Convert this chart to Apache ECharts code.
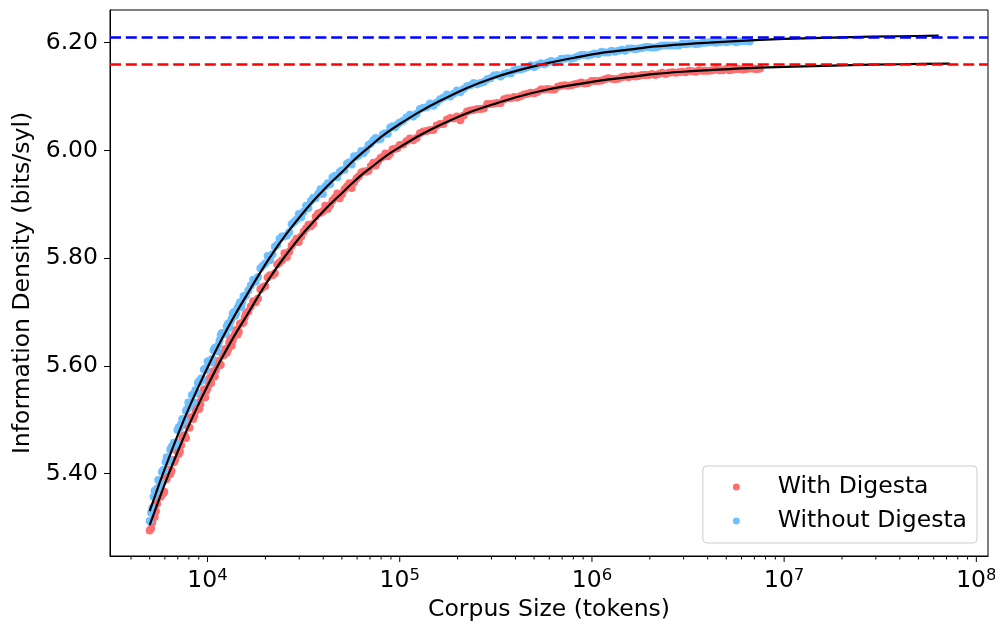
<!DOCTYPE html>
<html>
<head>
<meta charset="utf-8">
<script src="https://cdn.jsdelivr.net/npm/echarts@6/dist/echarts.min.js"></script>
<style>
  html, body { margin: 0; padding: 0; background: #ffffff; }
  #chart { width: 995px; height: 623px; }
</style>
</head>
<body>
<div id="chart"></div>
<script>
// Corpus sizes (tokens) of the first sampling pass
const corpusSizes = [
  5000, 5158, 5309, 5464, 5623, 5788, 5957, 6131, 6310, 6494, 6683, 6879, 7079, 7286, 7499, 7718, 7943, 8175, 8414, 8660,
  8913, 9173, 9441, 9716, 10000, 10292, 10593, 10902, 11220, 11548, 11885, 12232, 12589, 12957, 13335, 13725, 14125, 14538, 14962, 15399,
  15849, 16788, 17783, 18836, 19953, 21135, 22387, 23714, 25119, 26607, 28184, 29854, 31623, 33497, 35481, 37584, 39811, 42170, 44668, 47315,
  50119, 53088, 56234, 59566, 63096, 66834, 70795, 74989, 79433, 84140, 89125, 94406, 100000, 108393, 117490, 127350, 138038, 149624, 162181, 175792,
  190546, 206538, 223872, 242661, 263027, 285102, 309030, 334965, 363078, 393550, 426580, 462381, 501187, 543250, 588844, 638263, 691831, 749894, 812831, 881049,
  954993, 1035142, 1122018, 1216186, 1318257, 1428894, 1548817, 1678804, 1819701, 1972423, 2137962, 2317395, 2511886, 2722701, 2951209, 3198895, 3467369, 3758374, 4073803, 4415704,
  4786301, 5188000, 5623413, 6095369, 6606934, 7079458, 7498942
];
// Corpus sizes (tokens) of the second, interleaved sampling pass
const corpusSizesB = [
  5085, 5234, 5386, 5543, 5705, 5872, 6043, 6220, 6401, 6588, 6780, 6978, 7182, 7391, 7607, 7829, 8058, 8293, 8535, 8784,
  9041, 9305, 9576, 9856, 10145, 10441, 10746, 11060, 11383, 11715, 12057, 12409, 12772, 13144, 13528, 13923, 14330, 14748, 15179, 15622,
  16312, 17278, 18302, 19386, 20535, 21752, 23041, 24406, 25852, 27384, 29007, 30726, 32546, 34475, 36517, 38681, 40973, 43401, 45973, 48697,
  51582, 54639, 57876, 61306, 64938, 68786, 72862, 77179, 81752, 86597, 91728, 97163,
  104114, 112852, 122324, 132591, 143720, 155783, 168858, 183031, 198393, 215045, 233094, 252659, 273865, 296851, 321767, 348774, 378047, 409778, 444172, 481453,
  521863, 565664, 613142, 664605, 720387, 780852, 846391, 917433, 994437, 1077900, 1168376, 1266440, 1372740, 1487958, 1612850, 1748220, 1894955, 2054006, 2226406, 2413278,
  2615833, 2835390, 3073373, 3331332, 3610946, 3914030, 4242544, 4598634, 4984612, 5402985, 5856477, 6345654, 6879000, 7288000
];

// Information density (bits/syllable), corpus including the Digesta
const withDigesta = [
  5.294, 5.309, 5.319, 5.344, 5.362, 5.362, 5.366, 5.390, 5.407, 5.405, 5.421, 5.443, 5.436, 5.453, 5.470, 5.466, 5.487, 5.504, 5.501, 5.516,
  5.531, 5.528, 5.547, 5.541, 5.559, 5.578, 5.581, 5.580, 5.601, 5.601, 5.623, 5.621, 5.624, 5.643, 5.637, 5.655, 5.667, 5.663, 5.679, 5.681,
  5.697, 5.710, 5.718, 5.742, 5.748, 5.768, 5.772, 5.792, 5.809, 5.812, 5.829, 5.830, 5.849, 5.862, 5.864, 5.883, 5.887, 5.891, 5.907, 5.920,
  5.919, 5.933, 5.930, 5.948, 5.959, 5.961, 5.971, 5.972, 5.986, 5.994, 5.994, 6.003, 6.010, 6.017, 6.019, 6.032, 6.036, 6.038, 6.049, 6.057,
  6.059, 6.056, 6.072, 6.075, 6.077, 6.086, 6.087, 6.088, 6.097, 6.099, 6.101, 6.105, 6.106, 6.113, 6.114, 6.113, 6.120, 6.120, 6.123, 6.126,
  6.125, 6.129, 6.130, 6.134, 6.132, 6.136, 6.136, 6.137, 6.140, 6.140, 6.140, 6.144, 6.144, 6.144, 6.146, 6.148, 6.146, 6.148, 6.148, 6.150,
  6.149, 6.149, 6.151, 6.150, 6.152, 6.151, 6.152
];
const withDigestaB = [
  5.298, 5.327, 5.330, 5.357, 5.357, 5.363, 5.389, 5.397, 5.399, 5.425, 5.425, 5.443, 5.441, 5.467, 5.471, 5.490, 5.485, 5.504, 5.507, 5.525,
  5.520, 5.541, 5.556, 5.553, 5.571, 5.568, 5.590, 5.592, 5.609, 5.602, 5.619, 5.631, 5.630, 5.651, 5.647, 5.660, 5.658, 5.678, 5.679, 5.690,
  5.701, 5.720, 5.725, 5.746, 5.764, 5.768, 5.788, 5.796, 5.802, 5.823, 5.836, 5.840, 5.855, 5.859, 5.877, 5.884, 5.897, 5.898, 5.912, 5.911,
  5.928, 5.939, 5.941, 5.952, 5.961, 5.962, 5.977, 5.980, 5.988, 5.989, 6.002, 6.004,
  6.011, 6.022, 6.023, 6.035, 6.038, 6.046, 6.049, 6.060, 6.063, 6.065, 6.074, 6.077, 6.078, 6.086, 6.088, 6.095, 6.097, 6.098, 6.104, 6.107,
  6.109, 6.113, 6.113, 6.118, 6.121, 6.121, 6.124, 6.124, 6.129, 6.129, 6.132, 6.133, 6.133, 6.137, 6.138, 6.138, 6.140, 6.142, 6.142, 6.142,
  6.145, 6.145, 6.145, 6.147, 6.149, 6.148, 6.149, 6.149, 6.151, 6.150, 6.151, 6.151, 6.152, 6.151
];

// Information density (bits/syllable), corpus without the Digesta
const withoutDigesta = [
  5.312, 5.336, 5.368, 5.372, 5.375, 5.403, 5.407, 5.430, 5.427, 5.449, 5.457, 5.457, 5.486, 5.492, 5.496, 5.516, 5.532, 5.529, 5.533, 5.555,
  5.568, 5.571, 5.574, 5.595, 5.608, 5.610, 5.613, 5.633, 5.627, 5.647, 5.661, 5.660, 5.673, 5.671, 5.687, 5.700, 5.698, 5.712, 5.709, 5.729,
  5.731, 5.749, 5.756, 5.781, 5.790, 5.796, 5.821, 5.836, 5.840, 5.848, 5.867, 5.882, 5.886, 5.893, 5.912, 5.919, 5.919, 5.939, 5.950, 5.950,
  5.963, 5.975, 5.974, 5.988, 5.999, 6.001, 6.013, 6.023, 6.021, 6.032, 6.042, 6.043, 6.052, 6.061, 6.063, 6.077, 6.080, 6.083, 6.095, 6.104,
  6.105, 6.108, 6.119, 6.125, 6.125, 6.132, 6.139, 6.137, 6.144, 6.149, 6.150, 6.155, 6.155, 6.162, 6.163, 6.163, 6.170, 6.171, 6.172, 6.177,
  6.176, 6.180, 6.183, 6.182, 6.183, 6.187, 6.189, 6.188, 6.190, 6.192, 6.191, 6.195, 6.195, 6.195, 6.198, 6.198, 6.197, 6.200, 6.201, 6.200,
  6.202, 6.202, 6.201, 6.203, 6.202
];
const withoutDigestaB = [
  5.327, 5.357, 5.365, 5.388, 5.384, 5.406, 5.422, 5.422, 5.444, 5.451, 5.453, 5.481, 5.485, 5.501, 5.500, 5.520, 5.525, 5.546, 5.549, 5.550,
  5.572, 5.577, 5.593, 5.592, 5.608, 5.606, 5.629, 5.633, 5.638, 5.657, 5.658, 5.660, 5.678, 5.681, 5.697, 5.693, 5.708, 5.718, 5.719, 5.729,
  5.740, 5.760, 5.765, 5.786, 5.804, 5.807, 5.825, 5.840, 5.842, 5.863, 5.871, 5.876, 5.897, 5.906, 5.911, 5.928, 5.933, 5.937, 5.953, 5.960,
  5.964, 5.978, 5.989, 5.991, 5.995, 6.010, 6.019, 6.020, 6.030, 6.031, 6.045, 6.048,
  6.055, 6.066, 6.068, 6.079, 6.087, 6.089, 6.098, 6.100, 6.111, 6.114, 6.121, 6.123, 6.127, 6.134, 6.140, 6.142, 6.143, 6.150, 6.152, 6.158,
  6.159, 6.160, 6.166, 6.166, 6.170, 6.170, 6.175, 6.177, 6.178, 6.179, 6.182, 6.185, 6.185, 6.185, 6.189, 6.189, 6.192, 6.191, 6.193, 6.195,
  6.195, 6.195, 6.197, 6.199, 6.198, 6.200, 6.201, 6.201, 6.201, 6.203, 6.202, 6.203
];

// Fitted saturation curves, extended past the largest corpus
const fitSizes = [
  5000, 5623, 6310, 7079, 7943, 8913, 10000, 11220, 12589, 14125, 15849, 17783, 19953, 22387, 25119, 28184, 31623, 35481, 39811, 44668,
  50119, 56234, 63096, 70795, 79433, 89125, 100000, 127350, 162181, 223872, 309030, 426580, 588844, 812831, 1122018, 1548817, 2137962, 2951209, 4073803, 5623413,
  10000000, 19952623, 39810717
];
const fitWithEnd = 72780000;
const fitWithoutEnd = 63680000;
const fitWith = [
  5.304, 5.354, 5.401, 5.445, 5.487, 5.526, 5.563, 5.598, 5.631, 5.662, 5.691, 5.721, 5.750, 5.777, 5.802, 5.825, 5.847, 5.867, 5.886, 5.904,
  5.921, 5.938, 5.954, 5.968, 5.982, 5.995, 6.006, 6.028, 6.047, 6.069, 6.086, 6.101, 6.113, 6.122, 6.130, 6.136, 6.142, 6.146, 6.149, 6.152,
  6.155, 6.158, 6.160, 6.161
];
const fitWithout = [
  5.330, 5.382, 5.430, 5.476, 5.519, 5.559, 5.597, 5.633, 5.667, 5.699, 5.729, 5.759, 5.788, 5.815, 5.840, 5.863, 5.885, 5.906, 5.925, 5.943,
  5.960, 5.978, 5.994, 6.009, 6.024, 6.037, 6.049, 6.072, 6.092, 6.116, 6.135, 6.150, 6.162, 6.172, 6.181, 6.187, 6.193, 6.197, 6.200, 6.203,
  6.207, 6.210, 6.212, 6.213
];

// Asymptotes of the two fits
const asymptoteWith = 6.163;
const asymptoteWithout = 6.215;

// Axis ranges and ticks
const xRange = [3108, 115000000];
const yRange = [5.2468, 6.2607];
const xMajorTicks = [1e4, 1e5, 1e6, 1e7, 1e8];
const xMinorTicks = [
  4000, 5000, 6000, 7000, 8000, 9000,
  2e4, 3e4, 4e4, 5e4, 6e4, 7e4, 8e4, 9e4,
  2e5, 3e5, 4e5, 5e5, 6e5, 7e5, 8e5, 9e5,
  2e6, 3e6, 4e6, 5e6, 6e6, 7e6, 8e6, 9e6,
  2e7, 3e7, 4e7, 5e7, 6e7, 7e7, 8e7, 9e7
];
const yTicks = [5.4, 5.6, 5.8, 6.0, 6.2];

const FONT = 'DejaVu Sans';
const FS = 23.5;
const RED = '#ff6e6e';
const BLUE = '#6ec0ff';

const pairs = (xs, ys) => ys.map((y, i) => [xs[i], y]);
const withData = pairs(corpusSizes, withDigesta).concat(pairs(corpusSizesB, withDigestaB));
const withoutData = pairs(corpusSizes, withoutDigesta).concat(pairs(corpusSizesB, withoutDigestaB));
const fitWithData = pairs(fitSizes.concat([fitWithEnd]), fitWith);
const fitWithoutData = pairs(fitSizes.concat([fitWithoutEnd]), fitWithout);

// Ticks below the log axis, placed through the axis scale
function tickSeries(values, len) {
  return {
    type: 'custom',
    silent: true,
    clip: false,
    z: 10,
    data: values.map(v => [v, yRange[0]]),
    renderItem: function (params, api) {
      const p = api.coord([api.value(0), api.value(1)]);
      return {
        type: 'line',
        shape: { x1: p[0], y1: p[1], x2: p[0], y2: p[1] + len },
        style: { stroke: '#000000', lineWidth: 1 }
      };
    }
  };
}

function isPow10(v) {
  const l = Math.log10(v);
  return Math.abs(l - Math.round(l)) < 1e-6;
}

function asymptoteLine(value, color) {
  return {
    silent: true,
    symbol: 'none',
    label: { show: false },
    lineStyle: { color: color, width: 2.6, type: [11, 4.8] },
    data: [{ yAxis: value }]
  };
}

const chart = echarts.init(document.getElementById('chart'), null, { renderer: 'canvas' });
chart.setOption({
  animation: false,
  backgroundColor: '#ffffff',
  textStyle: { fontFamily: FONT, color: '#000000' },
  grid: {
    left: 110, right: 7, top: 10, bottom: 67,
    containLabel: false,
    outerBoundsMode: 'none',
    show: true, borderColor: '#000000', borderWidth: 1, backgroundColor: 'transparent'
  },
  xAxis: {
    type: 'log',
    logBase: 10,
    min: xRange[0],
    max: xRange[1],
    name: 'Corpus Size (tokens)',
    nameLocation: 'middle',
    nameGap: 40,
    nameTextStyle: { fontFamily: FONT, fontSize: FS, color: '#000000' },
    axisLine: { show: true, lineStyle: { color: '#000000', width: 1 } },
    axisTick: { show: false },
    splitLine: { show: false },
    axisLabel: {
      margin: 11,
      showMinLabel: true,
      showMaxLabel: true,
      formatter: function (v) {
        if (!isPow10(v)) return '';
        return '{b|10}{s|' + Math.round(Math.log10(v)) + '}';
      },
      rich: {
        b: { fontFamily: FONT, fontSize: FS, lineHeight: 27, color: '#000000' },
        s: { fontFamily: FONT, fontSize: 16.5, lineHeight: 13, verticalAlign: 'top', color: '#000000' }
      }
    }
  },
  yAxis: {
    type: 'value',
    min: yRange[0],
    max: yRange[1],
    name: 'Information Density (bits/syl)',
    nameLocation: 'middle',
    nameGap: 75,
    nameTextStyle: { fontFamily: FONT, fontSize: FS, color: '#000000' },
    axisLine: { show: true, lineStyle: { color: '#000000', width: 1 } },
    axisTick: { show: true, length: 6, customValues: yTicks, lineStyle: { color: '#000000', width: 1 } },
    splitLine: { show: false },
    axisLabel: {
      customValues: yTicks,
      margin: 12,
      fontFamily: FONT,
      fontSize: FS,
      color: '#000000',
      formatter: v => Number(v).toFixed(2)
    }
  },
  legend: {
    data: ['With Digesta', 'Without Digesta'],
    orient: 'vertical',
    right: 18,
    bottom: 80,
    icon: 'circle',
    itemWidth: 7,
    itemHeight: 7,
    itemGap: 10,
    padding: [9, 10, 10, 30],
    backgroundColor: 'rgba(255,255,255,0.8)',
    borderColor: '#cccccc',
    borderWidth: 1,
    borderRadius: 4,
    textStyle: { fontFamily: FONT, fontSize: FS, color: '#000000', lineHeight: 24, padding: [0, 0, 0, 33] }
  },
  series: [
    {
      name: 'With Digesta',
      type: 'scatter',
      data: withData,
      symbol: 'circle',
      symbolSize: 8,
      itemStyle: { color: RED, opacity: 1 },
      z: 2
    },
    {
      name: 'Without Digesta',
      type: 'scatter',
      data: withoutData,
      symbol: 'circle',
      symbolSize: 8,
      itemStyle: { color: BLUE, opacity: 1 },
      z: 2
    },
    {
      name: 'fit-with',
      type: 'line',
      data: fitWithData,
      showSymbol: false,
      symbol: 'none',
      smooth: 0.3,
      lineStyle: { color: '#000000', width: 2.2 },
      z: 3,
      markLine: asymptoteLine(asymptoteWith, '#ff0000')
    },
    {
      name: 'fit-without',
      type: 'line',
      data: fitWithoutData,
      showSymbol: false,
      symbol: 'none',
      smooth: 0.3,
      lineStyle: { color: '#000000', width: 2.2 },
      z: 3,
      markLine: asymptoteLine(asymptoteWithout, '#0000ff')
    },
    tickSeries(xMajorTicks, 6),
    tickSeries(xMinorTicks, 3.5)
  ]
});
</script>
</body>
</html>
